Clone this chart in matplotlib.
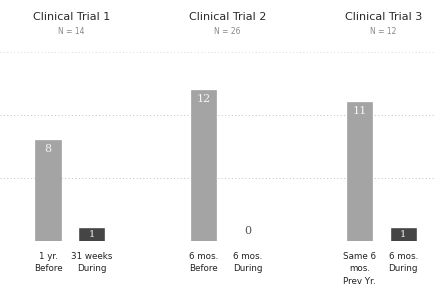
import matplotlib.pyplot as plt
import numpy as np

# data
trials = ["Clinical Trial 1", "Clinical Trial 2", "Clinical Trial 3"]
n_sizes = ["N = 14", "N = 26", "N = 12"]
before = [8, 12, 11]
during = [1, 0, 1]
before_labels = ["1 yr.\nBefore", "6 mos.\nBefore", "Same 6\nmos.\nPrev Yr."]
during_labels = ["31 weeks\nDuring", "6 mos.\nDuring", "6 mos.\nDuring"]
grid_vals = [0, 5, 10, 15]

fig = plt.figure(figsize=(4.34, 2.86), dpi=100)
fig.patch.set_facecolor("white")
ax = fig.add_axes([0, 45 / 286, 1, 189 / 286])

group_x = np.array([0, 3.65, 7.3])
bx = group_x
dx = group_x + 1.02
w = 0.59

for g in grid_vals:
    a = 0.55 if g in (5, 10) else 0.3
    ax.axhline(g, color="#888888", lw=0.7, ls=(0, (1, 2.5)), alpha=a, zorder=0)

ax.bar(bx, before, width=w, color="#a4a4a4", edgecolor="#999999", lw=0.4, zorder=2)
ax.bar(dx, during, width=w, color="#454545", edgecolor="#3a3a3a", lw=0.4, zorder=2)

for x, v in zip(bx, before):
    ax.text(x, v - 0.3, str(v), ha="center", va="top", color="#f4f4f4",
            fontsize=8, family="DejaVu Serif", zorder=3)
for x, v in zip(dx, during):
    if v > 0:
        ax.text(x, v / 2, str(v), ha="center", va="center", color="#f0f0f0",
                fontsize=7, family="DejaVu Serif", zorder=3)
    else:
        ax.text(x, 0.4, str(v), ha="center", va="bottom", color="#555555",
                fontsize=8, family="DejaVu Serif", zorder=3)

for x, lab in zip(bx, before_labels):
    ax.text(x, -0.9, lab, ha="center", va="top", fontsize=6.3, color="#222222",
            linespacing=1.45)
for x, lab in zip(dx, during_labels):
    ax.text(x, -0.9, lab, ha="center", va="top", fontsize=6.3, color="#222222",
            linespacing=1.45)

for x, t, n in zip(group_x + 0.55, trials, n_sizes):
    ax.text(x, 17.8, t, ha="center", va="center", fontsize=8, color="#2a2a2a")
    ax.text(x, 16.6, n, ha="center", va="center", fontsize=5.5, color="#888888")

ax.set_xlim(-1.124, 9.04)
ax.set_ylim(0, 15)
ax.axis("off")

fig.savefig("out.png", dpi=100, facecolor="white")
